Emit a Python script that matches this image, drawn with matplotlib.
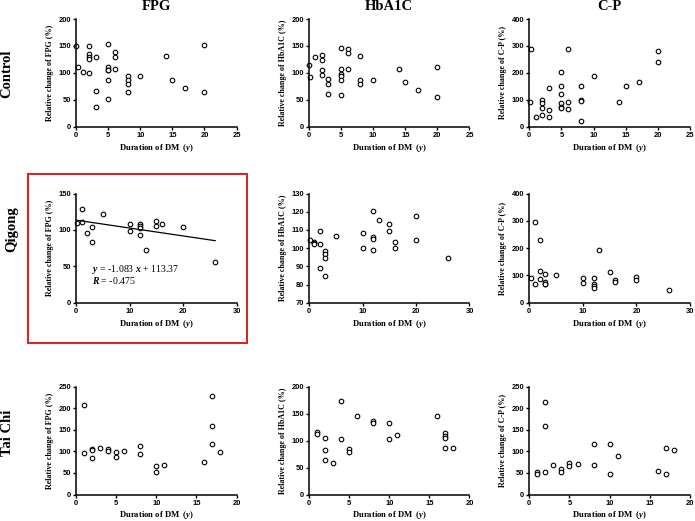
import matplotlib
matplotlib.use("Agg")
import matplotlib.pyplot as plt
from matplotlib.patches import Rectangle

plt.rcParams['font.family'] = 'Liberation Sans'
plt.rcParams['font.weight'] = 'bold'
plt.rcParams['mathtext.fontset'] = 'custom'
plt.rcParams['mathtext.rm'] = 'Liberation Serif'
plt.rcParams['mathtext.it'] = 'Liberation Serif:italic'
plt.rcParams['mathtext.bf'] = 'Liberation Serif:bold'

W, H = 695, 521

# .. Control group ..
ctrl_fpg_x = [0, 0.2, 1, 2, 2, 2, 2, 2, 3, 3, 3, 5, 5, 5, 5, 5, 5, 6, 6, 6,
              8, 8, 8, 8, 10, 14, 15, 17, 20, 20]
ctrl_fpg_y = [150, 110, 102, 150, 135, 130, 125, 99, 130, 66, 37, 154, 110, 106, 105, 86, 51, 138, 130, 107,
              94, 87, 80, 64, 94, 131, 87, 71, 151, 64]

ctrl_hba_x = [0, 0.2, 1, 2, 2, 2, 2, 3, 3, 3, 5, 5, 5, 5, 5, 5, 6, 6, 6,
              8, 8, 8, 10, 14, 15, 17, 20, 20]
ctrl_hba_y = [114, 92, 130, 133, 123, 106, 96, 88, 80, 61, 147, 108, 98, 95, 87, 58, 144, 137, 107,
              132, 87, 79, 87, 107, 83, 68, 111, 56]

ctrl_cp_x = [0.3, 0.1, 1, 2, 2, 2, 2, 3, 3, 3, 5, 5, 5, 5, 5, 5, 6, 6, 6,
             8, 8, 8, 8, 10, 14, 15, 17, 20, 20]
ctrl_cp_y = [287, 92, 37, 100, 88, 69, 44, 143, 61, 36, 203, 150, 122, 88, 73, 70, 288, 93, 67,
             153, 100, 97, 22, 189, 91, 153, 166, 280, 240]

# .. Qigong group ..
qg_fpg_x = [0.2, 1, 1, 2, 3, 3, 5, 10, 10, 12, 12, 12, 12, 13, 15, 15, 16, 20, 26]
qg_fpg_y = [110, 111, 129, 96, 104, 84, 122, 108, 98, 108, 105, 102, 93, 72, 112, 105, 108, 104, 56]
qg_slope, qg_intercept, qg_r = -1.083, 113.37, -0.475

qg_hba_x = [0.25, 0.9, 1, 1, 2, 2, 2, 3, 3, 3, 3, 5, 10, 10, 12, 12, 12, 12, 13,
            15, 15, 16, 16, 20, 20, 26]
qg_hba_y = [104.3, 103.4, 102.7, 102, 109.4, 102, 88.9, 98.6, 96.8, 94.4, 84.7, 106.9, 108.5, 100.3,
            120.3, 106, 105.2, 98.8, 115.4, 113, 109.2, 103.4, 100.3, 117.5, 104.5, 94.4]

qg_cp_x = [0.25, 1, 1, 2, 2, 2, 3, 3, 3, 3, 5, 10, 10, 12, 12, 12, 12, 13, 15, 16, 16, 20, 20, 26]
qg_cp_y = [92, 70, 297, 231, 117, 87, 104, 77, 70, 67, 103, 89, 73, 89, 69, 63, 55, 192, 111, 84, 77,
           94, 82, 45]

# .. Tai Chi group ..
tc_fpg_x = [1, 1, 2, 2, 2, 3, 4, 4, 5, 5, 6, 8, 8, 10, 10, 11, 16, 17, 17, 17, 18]
tc_fpg_y = [207, 96, 106, 104, 85, 108, 106, 100, 98, 86, 101, 112, 93, 65, 52, 68, 76, 229, 158, 118, 98]

tc_hba_x = [1, 1, 2, 2, 2, 3, 4, 4, 5, 5, 6, 8, 8, 10, 10, 11, 16, 17, 17, 17, 17, 18]
tc_hba_y = [116, 112, 105, 83, 63, 59, 174, 103, 85, 79, 145, 136, 133, 133, 103, 111, 145, 113, 108,
            105, 87, 87]

tc_cp_x = [1, 1, 2, 2, 2, 3, 4, 4, 5, 5, 6, 8, 8, 10, 10, 11, 16, 17, 17, 18]
tc_cp_y = [51, 48, 215, 158, 52, 69, 60, 53, 72, 67, 71, 118, 69, 116, 48, 88, 55, 108, 48, 102]

col_titles = ["FPG", "HbA1C", "C-P"]
row_titles = ["Control", "Qigong", "Tai Chi"]
ylabels = ["Relative change of FPG (%)", "Relative change of HbA1C (%)", "Relative change of C-P (%)"]

panels = [
    [(ctrl_fpg_x, ctrl_fpg_y, 25, 5, 0, 200, 50),
     (ctrl_hba_x, ctrl_hba_y, 25, 5, 0, 200, 50),
     (ctrl_cp_x, ctrl_cp_y, 25, 5, 0, 400, 100)],
    [(qg_fpg_x, qg_fpg_y, 30, 10, 0, 150, 50),
     (qg_hba_x, qg_hba_y, 30, 10, 70, 130, 10),
     (qg_cp_x, qg_cp_y, 30, 10, 0, 400, 100)],
    [(tc_fpg_x, tc_fpg_y, 20, 5, 0, 250, 50),
     (tc_hba_x, tc_hba_y, 20, 5, 0, 200, 50),
     (tc_cp_x, tc_cp_y, 20, 5, 0, 250, 50)],
]

# pixel boxes of the axes
lefts = [76.3, 309, 529.3]
rights = [236.5, 469.5, 690]
tops = [19, 193.5, 386.5]
bottoms = [126.7, 302.7, 494.5]

fig = plt.figure(figsize=(W / 100, H / 100), dpi=100)

axes = {}
for i in range(3):
    for j in range(3):
        xs, ys, xmax, xstep, ymin, ymax, ystep = panels[i][j]
        ax = fig.add_axes([lefts[j] / W, 1 - bottoms[i] / H,
                           (rights[j] - lefts[j]) / W, (bottoms[i] - tops[i]) / H])
        ax.plot(xs, ys, 'o', mfc='white', mec='black', ms=3.3, mew=0.8, clip_on=False)
        ax.set_xlim(0, xmax)
        ax.set_ylim(ymin, ymax)
        ax.set_xticks(range(0, xmax + 1, xstep))
        ax.set_yticks(range(ymin, ymax + 1, ystep))
        for s in ['top', 'right']:
            ax.spines[s].set_visible(False)
        for s in ['left', 'bottom']:
            ax.spines[s].set_linewidth(1.1)
        ax.tick_params(direction='out', length=2.2, width=1, labelsize=5.4, pad=1.5)
        ax.set_xlabel(r"Duration of DM  ($\mathit{y}$)", family='Liberation Serif',
                      weight='bold', fontsize=6.2, labelpad=2)
        ax.set_ylabel(ylabels[j], family='Liberation Serif', weight='bold',
                      fontsize=5.8, labelpad=3)
        axes[i, j] = ax

# .. regression line for Qigong FPG ..
ax = axes[1, 0]
line_x = [0, 26]
ax.plot(line_x, [qg_intercept + qg_slope * v for v in line_x], color='black', lw=0.9)
ax.text(3, 45, r"$y$ = -1.083 $x$ + 113.37", family='Liberation Serif', weight='normal',
        fontsize=7, va='center', ha='left')
ax.text(3, 30, r"$R$ = -0.475", family='Liberation Serif', weight='normal',
        fontsize=7, va='center', ha='left')

# .. column and row titles ..
for j, t in enumerate(col_titles):
    fig.text((lefts[j] + rights[j]) / 2 / W, 1 - 7 / H, t, family='Liberation Serif',
             weight='bold', fontsize=10.5, ha='center', va='center')
row_pos = [(7, 74), (12, 229), (8, 433)]
for (px, py), t in zip(row_pos, row_titles):
    fig.text(px / W, 1 - py / H, t, family='Liberation Serif', weight='bold',
             fontsize=10.5, ha='center', va='center', rotation=90)

fig.patches.append(Rectangle((28 / W, 1 - 343 / H), (247 - 28) / W, (343 - 174) / H,
                             transform=fig.transFigure, fill=False,
                             edgecolor='#cc2b2b', lw=1.5))

plt.savefig("out.png", dpi=100)
